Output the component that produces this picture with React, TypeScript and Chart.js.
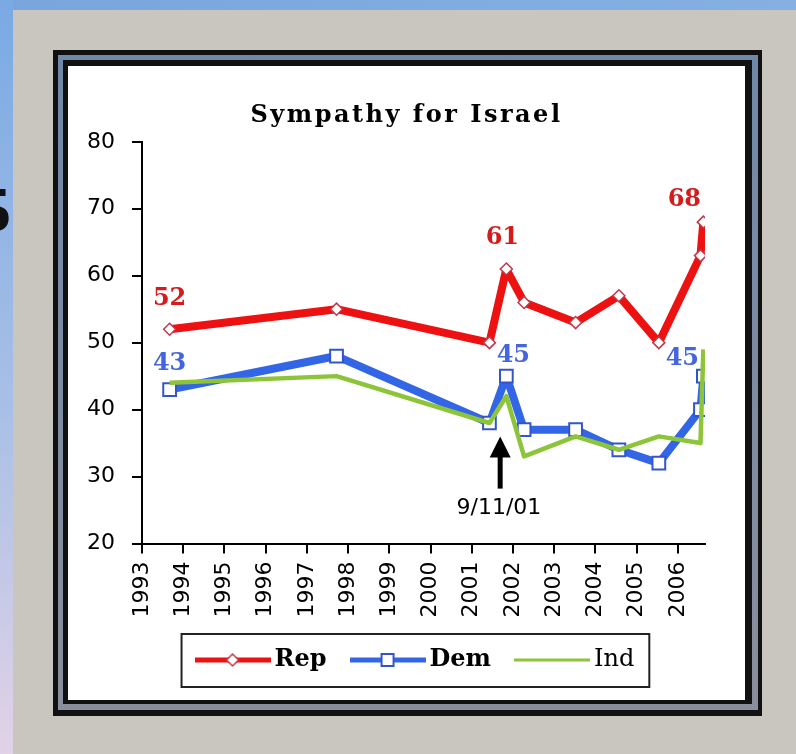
import React, { useEffect, useRef } from "react";
import { Chart, registerables } from "chart.js";

Chart.register(...registerables);

// ---------- data ----------
const TITLE = "Sympathy for Israel";
const SERIES_NAMES = ["Rep", "Dem", "Ind"];
const DATES = [1993.67, 1997.72, 2001.43, 2001.84, 2002.27, 2003.52, 2004.57, 2005.54, 2006.55, 2006.62];
const REP = [52, 55, 50, 61, 56, 53, 57, 50, 63, 68];
const DEM = [43, 48, 38, 45, 37, 37, 34, 32, 40, 45];
const IND = [44, 45, 38, 42, 33, 36, 34, 36, 35, 49];
const X_TICK_LABELS = ["1993", "1994", "1995", "1996", "1997", "1998", "1999", "2000", "2001", "2002", "2003", "2004", "2005", "2006"];
const Y_TICK_LABELS = ["20", "30", "40", "50", "60", "70", "80"];
const X_MIN = 1993;
const X_MAX = 2006.66;
// labelled points: [series index, point index]
const LABELLED_POINTS = [[0, 0], [1, 0], [0, 3], [1, 3], [0, 9], [1, 9]];
// event annotation
const EVENT_LABEL = "9/11/01";
const EVENT_YEAR = 2001.69;
const EVENT_ARROW_FROM = 28.2;
const EVENT_ARROW_TO = 36;
const EVENT_TEXT_YEAR = 2001.66;
const EVENT_TEXT_VALUE = 25.3;

// ---------- styles ----------
const COLORS = ["#ee1111", "#3366e6", "#8cc43a"];
const LABEL_COLORS = ["#d41c1c", "#4466dd"];
const LABEL_OFFSETS = [[0, -30], [0, -26], [-4, -31], [7, -20], [-19, -22], [-21, -17]];
const TITLE_SPACING = 2.5;
const TITLE_SHIFT = 20;
const LEGEND_SHIFT = 34.5;
const LEGEND_FONT = { family: "DejaVu Serif", weight: "bold", size: 24 };

function makeLegendImage(i: number): HTMLCanvasElement {
  const c = document.createElement("canvas");
  c.width = 76;
  c.height = 18;
  const g = c.getContext("2d")!;
  g.strokeStyle = COLORS[i];
  g.lineWidth = i === 2 ? 3 : 5;
  g.beginPath();
  g.moveTo(0, 9);
  g.lineTo(76, 9);
  g.stroke();
  if (i === 0) {
    g.fillStyle = "#fff";
    g.strokeStyle = "#c03848";
    g.lineWidth = 1.5;
    g.beginPath();
    g.moveTo(38 - 6, 9);
    g.lineTo(38, 3);
    g.lineTo(38 + 6, 9);
    g.lineTo(38, 15);
    g.closePath();
    g.fill();
    g.stroke();
  } else if (i === 1) {
    g.fillStyle = "#fff";
    g.strokeStyle = "#3355cc";
    g.lineWidth = 2;
    g.fillRect(32, 3, 12, 12);
    g.strokeRect(32, 3, 12, 12);
  }
  return c;
}

export default function App() {
  const ref = useRef<HTMLCanvasElement | null>(null);

  useEffect(() => {
    const canvas = ref.current;
    if (!canvas) return;
    const legendImgs = [0, 1, 2].map(makeLegendImage);
    const seriesValues = [REP, DEM, IND];

    const decorPlugin = {
      id: "decor",
      afterLayout(chart: any) {
        const lg = chart.legend;
        if (lg) {
          lg.left += LEGEND_SHIFT;
          lg.right += LEGEND_SHIFT;
        }
        const tb = chart.titleBlock;
        if (tb) {
          tb.left += TITLE_SHIFT;
          tb.right += TITLE_SHIFT;
        }
      },
      beforeDraw(chart: any) {
        const tb = chart.titleBlock;
        if (tb && !tb.__patched) {
          const orig = tb.draw.bind(tb);
          tb.draw = (...args: any[]) => {
            const ctx = chart.ctx;
            ctx.save();
            (ctx as any).letterSpacing = TITLE_SPACING + "px";
            orig(...args);
            ctx.restore();
          };
          tb.__patched = true;
        }
        const lg = chart.legend;
        if (lg && !lg.__patched) {
          const orig = lg.draw.bind(lg);
          lg.draw = (...args: any[]) => {
            const ctx: any = chart.ctx;
            const of = CanvasRenderingContext2D.prototype.fillText;
            ctx.fillText = function (t: string, x: number, y: number, m?: number) {
              if (t === SERIES_NAMES[2]) {
                const f = this.font;
                this.font = f.replace(/bold\s*/, "");
                if (m === undefined) of.call(this, t, x, y);
                else of.call(this, t, x, y, m);
                this.font = f;
              } else if (m === undefined) of.call(this, t, x, y);
              else of.call(this, t, x, y, m);
            };
            try {
              orig(...args);
            } finally {
              delete ctx.fillText;
            }
          };
          lg.__patched = true;
        }
      },
      afterDatasetsDraw(chart: any) {
        const ctx = chart.ctx;
        const xs = chart.scales.x;
        const ys = chart.scales.y;
        // data labels
        ctx.save();
        ctx.font = "bold 24px 'DejaVu Serif'";
        ctx.textAlign = "center";
        ctx.textBaseline = "middle";
        LABELLED_POINTS.forEach(([s, p], k) => {
          const pt = chart.getDatasetMeta(s).data[p];
          ctx.fillStyle = LABEL_COLORS[s];
          ctx.fillText(String(seriesValues[s][p]), pt.x + LABEL_OFFSETS[k][0], pt.y + LABEL_OFFSETS[k][1]);
        });
        ctx.restore();
        // event arrow
        const ax = xs.getPixelForValue(EVENT_YEAR);
        const yFrom = ys.getPixelForValue(EVENT_ARROW_FROM);
        const yTo = ys.getPixelForValue(EVENT_ARROW_TO);
        ctx.save();
        ctx.strokeStyle = "#000";
        ctx.fillStyle = "#000";
        ctx.lineWidth = 5;
        ctx.beginPath();
        ctx.moveTo(ax, yFrom);
        ctx.lineTo(ax, yTo + 18);
        ctx.stroke();
        ctx.beginPath();
        ctx.moveTo(ax, yTo);
        ctx.lineTo(ax - 10.5, yTo + 21);
        ctx.lineTo(ax + 10.5, yTo + 21);
        ctx.closePath();
        ctx.fill();
        ctx.font = "22px 'DejaVu Sans'";
        ctx.textAlign = "center";
        ctx.textBaseline = "middle";
        ctx.fillText(EVENT_LABEL, xs.getPixelForValue(EVENT_TEXT_YEAR), ys.getPixelForValue(EVENT_TEXT_VALUE));
        ctx.restore();
      },
      afterDraw(chart: any) {
        const lg = chart.legend;
        if (!lg || !lg.legendHitBoxes || !lg.legendHitBoxes.length) return;
        const hb = lg.legendHitBoxes;
        const first = hb[0];
        const last = hb[hb.length - 1];
        const cy = first.top + first.height / 2;
        const ctx = chart.ctx;
        ctx.save();
        ctx.font = `bold ${LEGEND_FONT.size}px '${LEGEND_FONT.family}'`;
        const boldW = ctx.measureText(SERIES_NAMES[2]).width;
        ctx.font = `${LEGEND_FONT.size}px '${LEGEND_FONT.family}'`;
        const regW = ctx.measureText(SERIES_NAMES[2]).width;
        const left = first.left - 21;
        const right = last.left + last.width - (boldW - regW) + 15;
        ctx.strokeStyle = "#222";
        ctx.lineWidth = 2;
        ctx.strokeRect(left, cy - 26, right - left, 53);
        ctx.restore();
      },
    };

    const axisGrid = {
      display: true,
      drawOnChartArea: false,
      drawTicks: true,
      tickLength: 10,
      color: "#000",
      lineWidth: 2,
    };
    const axisBorder = { display: true, color: "#000", width: 2 };

    const chart = new Chart(canvas, {
      type: "line",
      data: {
        datasets: [REP, DEM, IND].map((vals, i) => ({
          label: SERIES_NAMES[i],
          data: vals.map((v, j) => ({ x: DATES[j], y: v })),
          borderColor: COLORS[i],
          backgroundColor: COLORS[i],
          borderWidth: i === 2 ? 4.5 : 8,
          borderJoinStyle: "round",
          tension: 0,
          fill: false,
          order: 3 - i,
          pointStyle: i === 0 ? "rectRot" : "rect",
          pointRadius: i === 0 ? 6 : i === 1 ? 9 : 0,
          pointBackgroundColor: "#fff",
          pointBorderColor: i === 0 ? "#c03848" : "#3355cc",
          pointBorderWidth: i === 0 ? 1.5 : 2,
        })),
      },
      options: {
        animation: false,
        responsive: false,
        events: [],
        layout: { padding: { left: 0, right: 40, top: 0, bottom: 18 } },
        plugins: {
          title: {
            display: true,
            text: TITLE,
            color: "#000",
            font: { family: "DejaVu Serif", weight: "bold", size: 24 },
            padding: { top: 35, bottom: 12 },
          },
          legend: {
            position: "bottom",
            labels: {
              usePointStyle: true,
              pointStyleWidth: 60,
              padding: 31,
              color: "#000",
              font: LEGEND_FONT,
              generateLabels: (ch: any) =>
                ch.data.datasets.map((ds: any, i: number) => ({
                  text: ds.label,
                  datasetIndex: i,
                  pointStyle: legendImgs[i],
                  fillStyle: "transparent",
                  strokeStyle: "transparent",
                  lineWidth: 0,
                  hidden: false,
                  fontColor: "#000",
                })),
            },
          },
          tooltip: { enabled: false },
        },
        scales: {
          x: {
            type: "linear",
            min: X_MIN,
            max: X_MAX,
            afterBuildTicks: (s: any) => {
              s.ticks = X_TICK_LABELS.map((l) => ({ value: Number(l) }));
            },
            afterFit: (s: any) => {
              s.height = 73.5;
            },
            grid: axisGrid,
            border: axisBorder,
            ticks: {
              autoSkip: false,
              maxRotation: 90,
              minRotation: 90,
              padding: 8,
              color: "#000",
              font: { family: "DejaVu Sans", size: 22 },
              callback: (v: any) => String(v),
            },
          },
          y: {
            type: "linear",
            min: 20,
            max: 80,
            afterBuildTicks: (s: any) => {
              s.ticks = Y_TICK_LABELS.map((l) => ({ value: Number(l) }));
            },
            afterFit: (s: any) => {
              s.width = 74;
            },
            grid: axisGrid,
            border: axisBorder,
            ticks: {
              padding: 17,
              color: "#000",
              font: { family: "DejaVu Sans", size: 22 },
              callback: (v: any) => String(v),
            },
          },
        },
      } as any,
      plugins: [decorPlugin],
    });
    return () => chart.destroy();
  }, []);

  return (
    <div style={{ position: "absolute", left: 0, top: 0, width: 796, height: 754, overflow: "hidden", background: "#c9c6bf" }}>
      <div style={{ position: "absolute", left: 0, top: 0, width: 796, height: 10, background: "linear-gradient(to right, #78a6dc, #86b0e2)" }} />
      <div style={{ position: "absolute", left: 0, top: 0, width: 13, height: 754, background: "linear-gradient(to bottom, #7aa9e4, #a9c0e6 55%, #e2d2e6)" }} />
      <span style={{ position: "absolute", left: -21, top: 178, fontFamily: "'Liberation Serif'", fontWeight: "bold", fontSize: 64, lineHeight: "64px", color: "#111" }}>5</span>
      <div style={{ position: "absolute", left: 53, top: 50, width: 709, height: 666, background: "#111" }} />
      <div style={{ position: "absolute", left: 58, top: 55, width: 700, height: 655, background: "linear-gradient(to bottom, #6f88aa, #8a8e9c)" }} />
      <div style={{ position: "absolute", left: 63, top: 60, width: 689, height: 644, background: "#111" }} />
      <div style={{ position: "absolute", left: 68, top: 66, width: 677, height: 634, background: "#fff" }} />
      <canvas ref={ref} width={677} height={634} style={{ position: "absolute", left: 68, top: 66, width: 677, height: 634 }} />
    </div>
  );
}
